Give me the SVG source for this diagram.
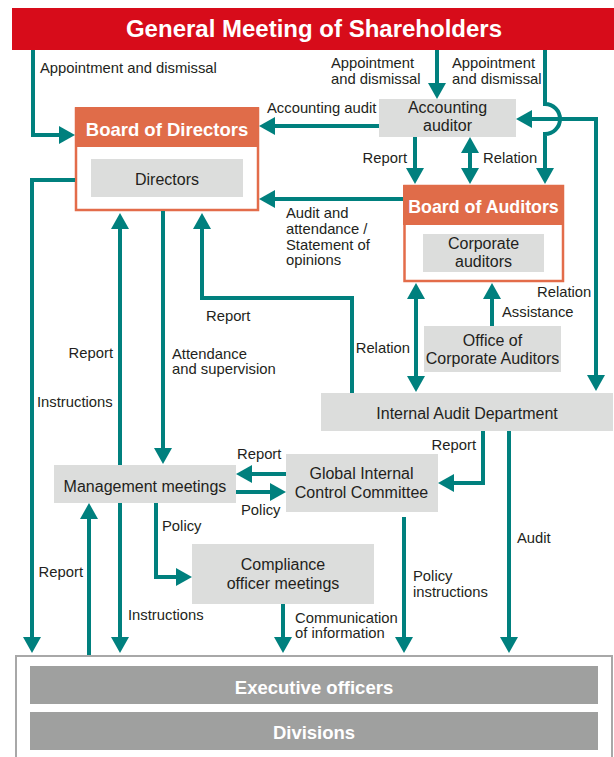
<svg xmlns="http://www.w3.org/2000/svg" width="614" height="757" viewBox="0 0 614 757">
  <style>
    .lbl { font-family: "Liberation Sans", Arial, sans-serif; font-size: 14.8px; fill: #231f20; }
    .end { text-anchor: end; }
    .box { fill: #dcdddc; }
    .btx { font-family: "Liberation Sans", Arial, sans-serif; font-size: 16px; fill: #231f20; text-anchor: middle; }
    .hdr { font-family: "Liberation Sans", Arial, sans-serif; font-size: 18.5px; font-weight: bold; fill: #ffffff; text-anchor: middle; }
    .board { fill: #ffffff; stroke: #e36c4a; stroke-width: 2.5; }
    .bhead { fill: #e06c49; }
    .bar { fill: #9fa09f; }
    .cn { fill: none; stroke: #00807e; stroke-width: 4; stroke-linejoin: miter; }
    .a { marker-end: url(#ah); }
    .aa { marker-start: url(#ah); marker-end: url(#ah); }
  </style>
  <defs>
    <marker id="ah" viewBox="0 0 16 18" refX="10" refY="9" markerWidth="16" markerHeight="18" markerUnits="userSpaceOnUse" orient="auto-start-reverse">
      <path d="M0,0 L16,9 L0,18 Z" fill="#00807e"/>
    </marker>
  </defs>

  <!-- General meeting banner -->
  <g id="general-meeting">
    <rect x="12" y="8" width="602" height="42" fill="#d70c1a"/>
    <text x="314" y="37" style="font-family: 'Liberation Sans', Arial, sans-serif; font-size: 24px; font-weight: bold; fill: #ffffff; text-anchor: middle;">General Meeting of Shareholders</text>
  </g>

  <!-- Board of Directors -->
  <g id="board-of-directors">
    <rect class="board" x="76" y="108.5" width="182" height="101.5"/>
    <rect class="bhead" x="75" y="107" width="184" height="40"/>
    <text class="hdr" x="167" y="136">Board of Directors</text>
    <rect class="box" x="91" y="159" width="152" height="38"/>
    <text class="btx" x="167" y="185">Directors</text>
  </g>

  <!-- Accounting auditor -->
  <g id="accounting-auditor">
    <rect class="box" x="379" y="99" width="137" height="38"/>
    <text class="btx" x="447.5" y="113">Accounting</text>
    <text class="btx" x="447.5" y="131">auditor</text>
  </g>

  <!-- Board of Auditors -->
  <g id="board-of-auditors">
    <rect class="board" x="404.5" y="186" width="158.5" height="95"/>
    <rect class="bhead" x="403" y="185" width="161" height="40"/>
    <text class="hdr" x="483.5" y="213" style="font-size: 17.8px;">Board of Auditors</text>
    <rect class="box" x="423" y="234" width="121" height="38"/>
    <text class="btx" x="483.5" y="249">Corporate</text>
    <text class="btx" x="483.5" y="266.5">auditors</text>
  </g>

  <!-- Office of Corporate Auditors -->
  <g id="office-of-corporate-auditors">
    <rect class="box" x="424" y="326" width="137" height="46"/>
    <text class="btx" x="492.5" y="346">Office of</text>
    <text class="btx" x="492.5" y="363.5">Corporate Auditors</text>
  </g>

  <!-- Internal Audit Department -->
  <g id="internal-audit-department">
    <rect class="box" x="321" y="393" width="292" height="38"/>
    <text class="btx" x="467" y="418.5">Internal Audit Department</text>
  </g>

  <!-- Management meetings -->
  <g id="management-meetings">
    <rect class="box" x="54" y="465" width="182" height="38"/>
    <text class="btx" x="145" y="491.5">Management meetings</text>
  </g>

  <!-- Global Internal Control Committee -->
  <g id="global-internal-control-committee">
    <rect class="box" x="286" y="454" width="152" height="58"/>
    <text class="btx" x="361.5" y="479">Global Internal</text>
    <text class="btx" x="361.5" y="497.5">Control Committee</text>
  </g>

  <!-- Compliance officer meetings -->
  <g id="compliance-officer-meetings">
    <rect class="box" x="192" y="544" width="182" height="60"/>
    <text class="btx" x="283" y="570">Compliance</text>
    <text class="btx" x="283" y="588.5">officer meetings</text>
  </g>

  <!-- Executive officers / Divisions -->
  <g id="executive-officers-divisions">
    <rect x="16" y="656" width="596" height="120" fill="#ffffff" stroke="#a8a8a8" stroke-width="2"/>
    <rect class="bar" x="30" y="666" width="568" height="38"/>
    <text class="hdr" x="314" y="693.5">Executive officers</text>
    <rect class="bar" x="30" y="712" width="568" height="38"/>
    <text class="hdr" x="314" y="738.5">Divisions</text>
  </g>

  <!-- Connectors -->
  <g id="connectors">
    <path class="cn a" d="M33,50 V135 H69"/>
    <path class="cn a" d="M437,50 V93"/>
    <path class="cn a" d="M545,50 V104 A15,15 0 0 1 545,134 V178"/>
    <path class="cn aa" d="M522,119 H596 V385"/>
    <path class="cn a" d="M379,126 H265"/>
    <path class="cn a" d="M415,137 V178"/>
    <path class="cn aa" d="M470,143 V178"/>
    <path class="cn a" d="M403,199 H265"/>
    <path class="cn a" d="M75,180 H32 V647"/>
    <path class="cn a" d="M120,465 V219"/>
    <path class="cn a" d="M163,211 V458"/>
    <path class="cn a" d="M352,393 V298 H202 V219"/>
    <path class="cn aa" d="M416,289 V386"/>
    <path class="cn a" d="M492,326 V289"/>
    <path class="cn a" d="M483,431 V483 H444"/>
    <path class="cn a" d="M509,431 V647"/>
    <path class="cn a" d="M286,474 H242"/>
    <path class="cn a" d="M236,492 H280"/>
    <path class="cn a" d="M156,503 V577 H186"/>
    <path class="cn a" d="M89,655 V509"/>
    <path class="cn a" d="M120,503 V647"/>
    <path class="cn a" d="M404,517 V647"/>
    <path class="cn a" d="M283,604 V647"/>
  </g>

  <!-- Connector labels -->
  <g id="labels">
    <text class="lbl" x="40" y="73">Appointment and dismissal</text>
    <text class="lbl" x="331" y="68">Appointment</text>
    <text class="lbl" x="331" y="84">and dismissal</text>
    <text class="lbl" x="452" y="68">Appointment</text>
    <text class="lbl" x="452" y="84">and dismissal</text>
    <text class="lbl" x="267" y="113">Accounting audit</text>
    <text class="lbl end" x="407" y="163">Report</text>
    <text class="lbl" x="483" y="163">Relation</text>
    <text class="lbl" x="286" y="218">Audit and</text>
    <text class="lbl" x="286" y="234">attendance /</text>
    <text class="lbl" x="286" y="249.5">Statement of</text>
    <text class="lbl" x="286" y="265">opinions</text>
    <text class="lbl" x="537" y="297">Relation</text>
    <text class="lbl" x="502" y="317">Assistance</text>
    <text class="lbl" x="206" y="321">Report</text>
    <text class="lbl end" x="410" y="353">Relation</text>
    <text class="lbl end" x="113" y="358">Report</text>
    <text class="lbl" x="172" y="359">Attendance</text>
    <text class="lbl" x="172" y="374">and supervision</text>
    <text class="lbl" x="37" y="407">Instructions</text>
    <text class="lbl end" x="476" y="450">Report</text>
    <text class="lbl" x="237" y="459">Report</text>
    <text class="lbl" x="241" y="515">Policy</text>
    <text class="lbl" x="162" y="531">Policy</text>
    <text class="lbl" x="517" y="543">Audit</text>
    <text class="lbl end" x="83" y="577">Report</text>
    <text class="lbl" x="413" y="581">Policy</text>
    <text class="lbl" x="413" y="597">instructions</text>
    <text class="lbl" x="128" y="620">Instructions</text>
    <text class="lbl" x="295" y="623">Communication</text>
    <text class="lbl" x="295" y="638">of information</text>
  </g>
</svg>
